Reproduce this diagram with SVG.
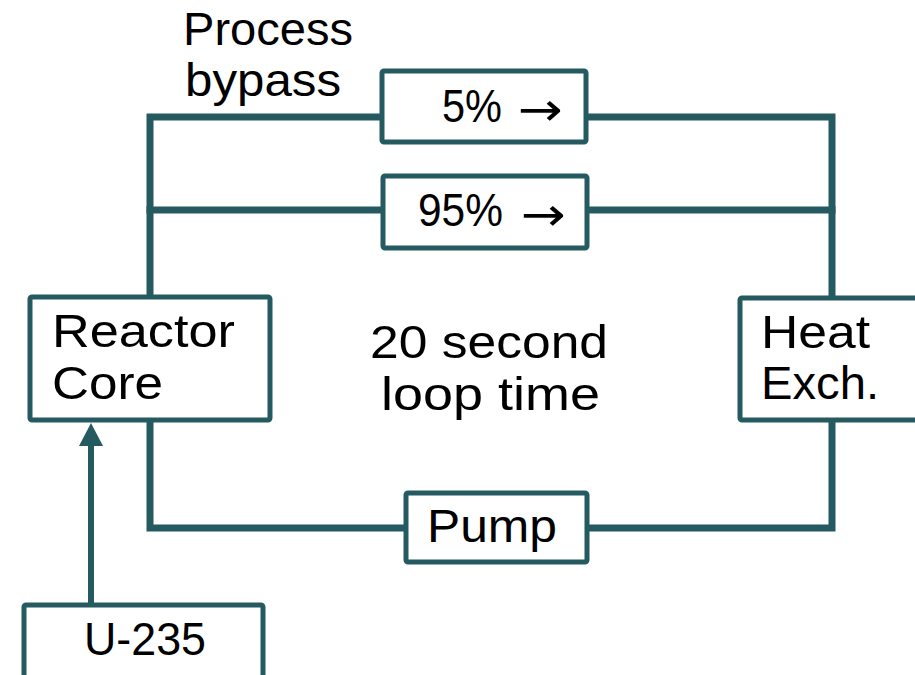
<svg xmlns="http://www.w3.org/2000/svg" width="915" height="675" viewBox="0 0 915 675">
  <style>
    .box { fill: #ffffff; stroke: #255a60; stroke-width: 5; }
    .pipe { fill: none; stroke: #255a60; stroke-width: 7; stroke-linejoin: miter; stroke-linecap: square; }
    .feed { fill: none; stroke: #255a60; stroke-width: 6; }
    .lbl { font-family: "Liberation Sans", "DejaVu Sans", sans-serif; font-size: 46px; fill: #000000; }
    .dir { font-family: "DejaVu Sans", sans-serif; font-size: 46px; fill: #000000; }
  </style>

  <!-- coolant loop piping and fuel feed -->
  <g id="connectors">
    <polyline class="pipe" points="150,295 150,117 832,117 832,296"/>
    <line class="pipe" x1="150" y1="210" x2="832" y2="210"/>
    <polyline class="pipe" points="150,422 150,528 832,528 832,422"/>
    <line class="feed" x1="91" y1="603" x2="91" y2="446"/>
    <path d="M91 423 L103 446 L79 446 Z" fill="#255a60"/>
  </g>

  <g id="label-bypass">
    <text class="lbl" x="183" y="45" textLength="170" lengthAdjust="spacingAndGlyphs">Process</text>
    <text class="lbl" x="185" y="96" textLength="156" lengthAdjust="spacingAndGlyphs">bypass</text>
  </g>

  <g id="node-bypass5">
    <rect class="box" x="382" y="71" width="204" height="71" rx="2"/>
    <text class="lbl" x="442" y="122" textLength="60" lengthAdjust="spacingAndGlyphs">5%</text>
    <text class="dir" x="518" y="125" textLength="45" lengthAdjust="spacingAndGlyphs">→</text>
  </g>

  <g id="node-main95">
    <rect class="box" x="383" y="176" width="204" height="72" rx="2"/>
    <text class="lbl" x="418" y="226" textLength="85" lengthAdjust="spacingAndGlyphs">95%</text>
    <text class="dir" x="521" y="230" textLength="45" lengthAdjust="spacingAndGlyphs">→</text>
  </g>

  <g id="node-reactor">
    <rect class="box" x="30" y="297" width="240" height="123" rx="2"/>
    <text class="lbl" x="52" y="347" textLength="183" lengthAdjust="spacingAndGlyphs">Reactor</text>
    <text class="lbl" x="52" y="399" textLength="111" lengthAdjust="spacingAndGlyphs">Core</text>
  </g>

  <g id="label-loop">
    <text class="lbl" x="370" y="358" textLength="238" lengthAdjust="spacingAndGlyphs">20 second</text>
    <text class="lbl" x="381" y="410" textLength="219" lengthAdjust="spacingAndGlyphs">loop time</text>
  </g>

  <g id="node-heatexch">
    <rect class="box" x="740" y="298" width="200" height="122" rx="2"/>
    <text class="lbl" x="761" y="348" textLength="109" lengthAdjust="spacingAndGlyphs">Heat</text>
    <text class="lbl" x="761" y="399" textLength="118" lengthAdjust="spacingAndGlyphs">Exch.</text>
  </g>

  <g id="node-pump">
    <rect class="box" x="406" y="493" width="181" height="69" rx="2"/>
    <text class="lbl" x="427" y="542" textLength="130" lengthAdjust="spacingAndGlyphs">Pump</text>
  </g>

  <g id="node-u235">
    <rect class="box" x="24" y="605" width="239" height="80" rx="2"/>
    <text class="lbl" x="84" y="655" textLength="122" lengthAdjust="spacingAndGlyphs">U-235</text>
  </g>
</svg>
